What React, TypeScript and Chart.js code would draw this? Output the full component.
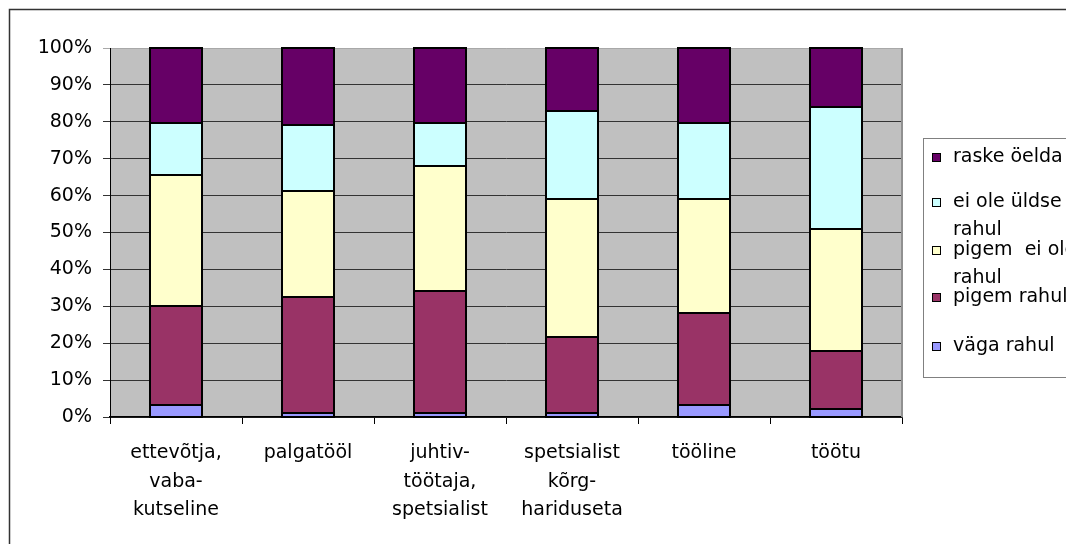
import React, { useEffect, useRef } from "react";
import { Chart, registerables } from "chart.js";

Chart.register(...registerables);

const categories: string[][] = [
  ["ettevõtja,", "vaba-", "kutseline"],
  ["palgatööl"],
  ["juhtiv-", "töötaja,", "spetsialist"],
  ["spetsialist", "kõrg-", "hariduseta"],
  ["tööline"],
  ["töötu"],
];

const seriesNames = [
  "väga rahul",
  "pigem rahul",
  "pigem  ei ole rahul",
  "ei ole üldse rahul",
  "raske öelda",
];

const vagaRahul = [3.3, 1.0, 1.0, 1.0, 3.3, 2.2];
const pigemRahul = [26.7, 31.6, 33.2, 20.8, 25.0, 15.7];
const pigemEiOleRahul = [35.7, 28.6, 33.7, 37.4, 30.9, 33.1];
const eiOleUldseRahul = [14.0, 18.0, 11.8, 23.8, 20.5, 33.0];
const raskeOelda = [20.3, 20.8, 20.3, 17.0, 20.3, 16.0];

const seriesColors = ["#9999FF", "#993366", "#FFFFCC", "#CCFFFF", "#660066"];

const legendLines: string[][] = [
  ["raske öelda"],
  ["ei ole üldse", "rahul"],
  ["pigem  ei ole", "rahul"],
  ["pigem rahul"],
  ["väga rahul"],
];

const yTicks = [0, 10, 20, 30, 40, 50, 60, 70, 80, 90, 100];

const FONT = "'DejaVu Sans', sans-serif";
const FS = 19;

export default function App() {
  const ref = useRef<HTMLCanvasElement | null>(null);

  useEffect(() => {
    const canvas = ref.current;
    if (!canvas) return;
    const allSeries = [vagaRahul, pigemRahul, pigemEiOleRahul, eiOleUldseRahul, raskeOelda];

    const decor = {
      id: "decor",
      beforeDraw(chart: any) {
        const { ctx, chartArea } = chart;
        ctx.save();
        ctx.fillStyle = "#ffffff";
        ctx.fillRect(0, 0, chart.width, chart.height);
        ctx.fillStyle = "#C0C0C0";
        ctx.fillRect(chartArea.left, chartArea.top, chartArea.right - chartArea.left, chartArea.bottom - chartArea.top);
        ctx.restore();
      },
      afterDatasetsDraw(chart: any) {
        const { ctx } = chart;
        ctx.save();
        ctx.strokeStyle = "#000000";
        ctx.lineWidth = 2;
        chart.data.datasets.forEach((_: any, di: number) => {
          const meta = chart.getDatasetMeta(di);
          meta.data.forEach((el: any) => {
            const p = el.getProps(["x", "y", "base", "width"], true);
            const l = Math.round(p.x - p.width / 2);
            const r = Math.round(p.x + p.width / 2);
            const t = Math.round(Math.min(p.y, p.base));
            const b = Math.round(Math.max(p.y, p.base));
            ctx.strokeRect(l, t, r - l, b - t);
          });
        });
        ctx.restore();
      },
      afterDraw(chart: any) {
        const { ctx, chartArea } = chart;
        ctx.save();
        ctx.strokeStyle = "#909090";
        ctx.lineWidth = 2;
        ctx.beginPath();
        ctx.moveTo(chartArea.right, chartArea.top);
        ctx.lineTo(chartArea.right, chartArea.bottom);
        ctx.stroke();
        ctx.strokeStyle = "#333333";
        ctx.lineWidth = 1.5;
        ctx.strokeRect(9.5, 9.5, 1200, 700);
        ctx.strokeStyle = "#808080";
        ctx.lineWidth = 1;
        ctx.strokeRect(923.5, 138.5, 300, 239);
        ctx.font = FS + "px " + FONT;
        ctx.textBaseline = "middle";
        ctx.textAlign = "left";
        const centers = [157.5, 202.5, 250.5, 297.5, 346.5];
        legendLines.forEach((lines, i) => {
          const color = seriesColors[seriesColors.length - 1 - i];
          const cy = centers[i];
          ctx.fillStyle = color;
          ctx.fillRect(932, cy - 4.5, 9, 9);
          ctx.strokeStyle = "#000000";
          ctx.lineWidth = 1;
          ctx.strokeRect(932.5, cy - 4, 8, 8);
          ctx.fillStyle = "#000000";
          lines.forEach((t, j) => {
            ctx.fillText(t, 953, cy + j * 28);
          });
        });
        ctx.restore();
      },
    };

    const chart = new Chart(canvas, {
      type: "bar",
      data: {
        labels: categories as any,
        datasets: allSeries.map((d, i) => ({
          label: seriesNames[i],
          data: d,
          backgroundColor: seriesColors[i],
          borderWidth: 0,
          barPercentage: 0.394,
          categoryPercentage: 1,
        })),
      },
      options: {
        responsive: false,
        animation: false,
        layout: { padding: { left: 0, top: 48, right: 164, bottom: 0 } },
        plugins: {
          legend: { display: false },
          tooltip: { enabled: false },
          title: { display: false },
        },
        scales: {
          x: {
            stacked: true,
            offset: true,
            grid: {
              offset: true,
              drawOnChartArea: false,
              drawTicks: true,
              tickLength: 7,
              color: "#000000",
            },
            border: { display: true, color: "#000000", width: 1.5 },
            ticks: {
              color: "#000000",
              font: { family: FONT, size: FS, lineHeight: 1.5 },
              padding: 15,
              maxRotation: 0,
              autoSkip: false,
            },
            afterFit(scale: any) {
              scale.height = 127;
            },
          },
          y: {
            stacked: true,
            min: 0,
            max: 100,
            afterBuildTicks(scale: any) {
              scale.ticks = yTicks.map((v) => ({ value: v }));
            },
            grid: {
              color: (c: any) => (c.tick && c.tick.value === 100 ? "#A8A8A8" : "#333333"),
              tickLength: 7,
              lineWidth: 1,
            },
            border: { display: true, color: "#000000", width: 1 },
            ticks: {
              color: "#000000",
              font: { family: FONT, size: FS },
              padding: 11,
              callback: (v: any) => v + "%",
            },
            afterFit(scale: any) {
              scale.width = 110;
            },
          },
        },
      },
      plugins: [decor],
    });
    return () => chart.destroy();
  }, []);

  return (
    <div style={{ position: "fixed", left: 0, top: 0, width: 1066, height: 544, background: "#fff" }}>
      <canvas ref={ref} width={1066} height={544} style={{ width: 1066, height: 544, display: "block" }} />
    </div>
  );
}
